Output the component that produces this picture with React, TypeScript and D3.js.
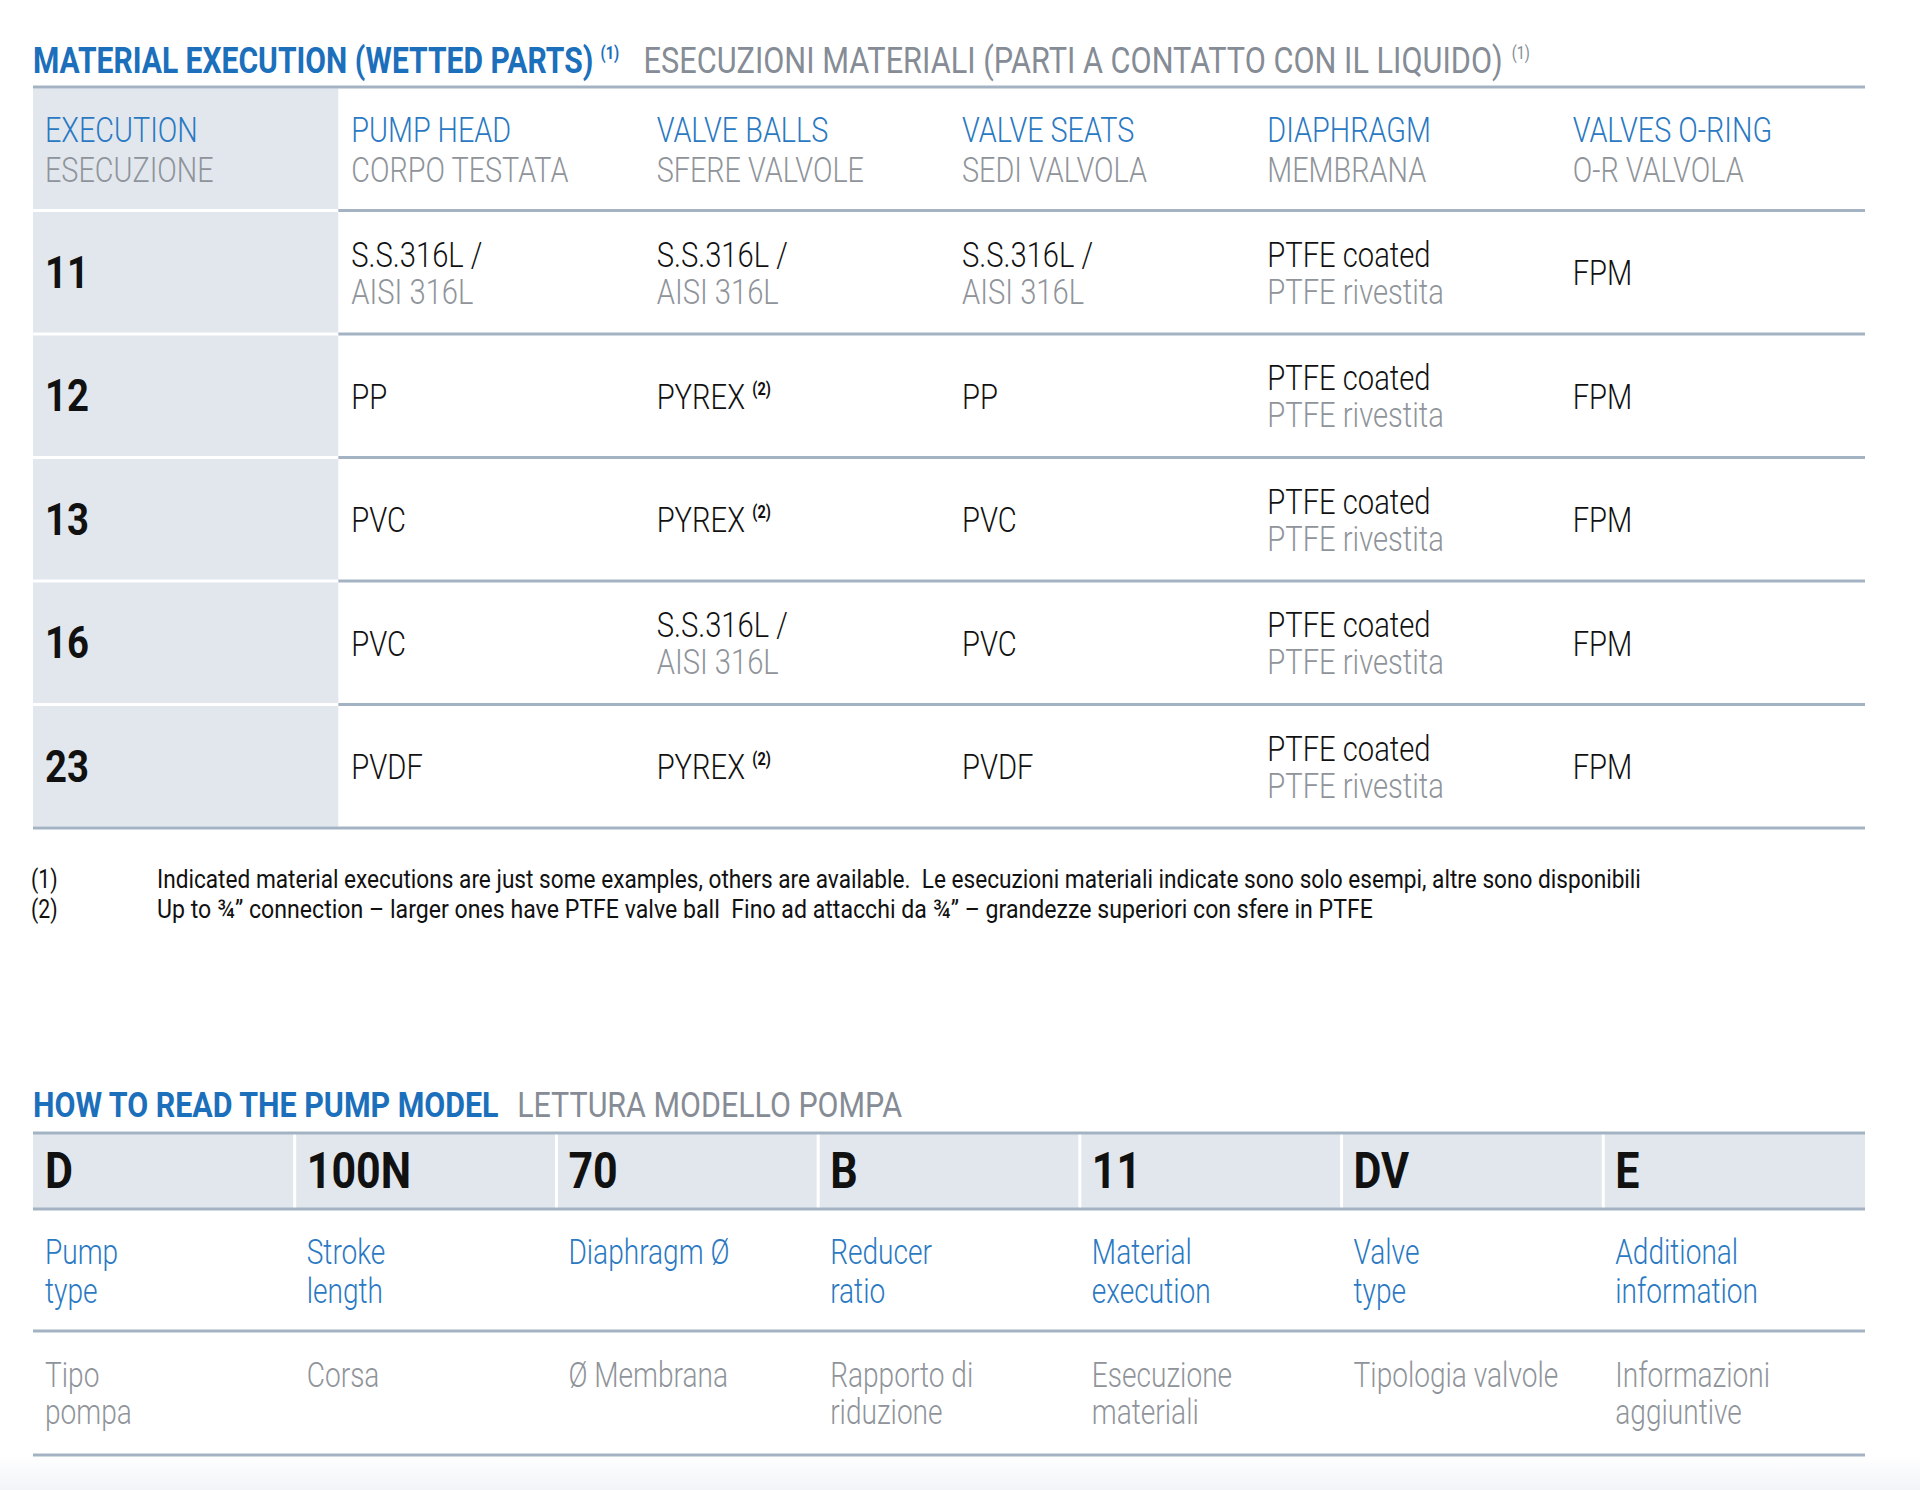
import React from 'react';
import * as d3 from 'd3';

// ---------- data ----------
const headersEn = ['EXECUTION', 'PUMP HEAD', 'VALVE BALLS', 'VALVE SEATS', 'DIAPHRAGM', 'VALVES O-RING'];
const headersIt = ['ESECUZIONE', 'CORPO TESTATA', 'SFERE VALVOLE', 'SEDI VALVOLA', 'MEMBRANA', 'O-R VALVOLA'];
const executions = ['11', '12', '13', '16', '23'];

type Cell = { l1: string; l2?: string; sup?: string };
const ss: Cell = { l1: 'S.S.316L /', l2: 'AISI 316L' };
const pyrex: Cell = { l1: 'PYREX', sup: '(2)' };
const ptfe: Cell = { l1: 'PTFE coated', l2: 'PTFE rivestita' };
const fpm: Cell = { l1: 'FPM' };

const pumpHead: Cell[] = [ss, { l1: 'PP' }, { l1: 'PVC' }, { l1: 'PVC' }, { l1: 'PVDF' }];
const valveBalls: Cell[] = [ss, pyrex, pyrex, ss, pyrex];
const valveSeats: Cell[] = [ss, { l1: 'PP' }, { l1: 'PVC' }, { l1: 'PVC' }, { l1: 'PVDF' }];
const diaphragm: Cell[] = [ptfe, ptfe, ptfe, ptfe, ptfe];
const oRing: Cell[] = [fpm, fpm, fpm, fpm, fpm];
const columns: Cell[][] = [pumpHead, valveBalls, valveSeats, diaphragm, oRing];

const footnoteMarks = ['(1)', '(2)'];
const footnotes = [
  'Indicated material executions are just some examples, others are available.  Le esecuzioni materiali indicate sono solo esempi, altre sono disponibili',
  'Up to \u00BE\u201D connection \u2013 larger ones have PTFE valve ball  Fino ad attacchi da \u00BE\u201D \u2013 grandezze superiori con sfere in PTFE',
];

const modelCodes = ['D', '100N', '70', 'B', '11', 'DV', 'E'];
const modelEn = [['Pump', 'type'], ['Stroke', 'length'], ['Diaphragm \u00D8'], ['Reducer', 'ratio'], ['Material', 'execution'], ['Valve', 'type'], ['Additional', 'information']];
const modelIt = [['Tipo', 'pompa'], ['Corsa'], ['\u00D8 Membrana'], ['Rapporto di', 'riduzione'], ['Esecuzione', 'materiali'], ['Tipologia valvole'], ['Informazioni', 'aggiuntive']];

// ---------- style ----------
const W = 1920;
const H = 1490;
const FONT = 'Roboto, "Liberation Sans", Arial, sans-serif';
const BLUE_T = '#1b6fbb';
const BLUE = '#2a79c2';
const GRAY_T = '#858c95';
const GRAY = '#8f949a';
const BLACK = '#111111';
const LINE = '#a3b3c3';
const CELL = '#e2e7ee';

function T({ x, y, sx = 0.8, size, weight = 400, fill, children }: any) {
  return (
    <text
      transform={`translate(${x},${y}) scale(${sx},1)`}
      fontSize={size}
      fontWeight={weight}
      fill={fill}
      fontFamily={FONT}
      style={{ whiteSpace: 'pre' }}
    >
      {children}
    </text>
  );
}

export default function App() {
  const left = 33;
  const right = 1865;

  // table 1
  const x1 = d3.scaleBand<number>().domain(d3.range(6)).range([left, right]);
  const y1 = d3.scaleBand<string>().domain(['head', ...executions]).range([87, 828]);
  const bw1 = x1.bandwidth();
  const bh1 = y1.bandwidth();

  // table 2
  const x2 = d3.scaleBand<number>().domain(d3.range(7)).range([left, right]);
  const bw2 = x2.bandwidth();
  const t2Lines = [1133, 1209, 1331, 1455];

  const cap = 36 * 0.711;

  return (
    <svg width={W} height={H} style={{ position: 'absolute', left: 0, top: 0, background: '#fff' }}>
      <defs>
        <linearGradient id="bottomShade" x1="0" y1="0" x2="0" y2="1">
          <stop offset="0" stopColor="#ffffff" />
          <stop offset="1" stopColor="#f2f4f7" />
        </linearGradient>
      </defs>
      <rect x={0} y={0} width={W} height={H} fill="#fff" />
      <rect x={0} y={1455} width={W} height={35} fill="url(#bottomShade)" />

      {/* ---------- Title 1 ---------- */}
      <T x={left} y={73} size={37} sx={0.812} weight={700} fill={BLUE_T}>
        <tspan>MATERIAL EXECUTION (WETTED PARTS)</tspan>
        <tspan fontSize={18} dx={9} dy={-14}>(1)</tspan>
        <tspan fill={GRAY_T} fontWeight={400} fontSize={37.8} dx={30} dy={14}>ESECUZIONI MATERIALI (PARTI A CONTATTO CON IL LIQUIDO)</tspan>
        <tspan fill={GRAY_T} fontWeight={400} fontSize={18} dx={11} dy={-14}>(1)</tspan>
      </T>

      {/* gray first column cells */}
      {y1.domain().map((r) => (
        <rect key={r} x={x1(0)} y={(y1(r) as number) + 1.5} width={bw1} height={bh1 - 3} fill={CELL} />
      ))}

      {/* row lines */}
      <line x1={left} x2={right} y1={87} y2={87} stroke={LINE} strokeWidth={3} />
      {y1.domain().slice(1).map((r) => (
        <line key={r} x1={x1(1)} x2={right} y1={y1(r)} y2={y1(r)} stroke={LINE} strokeWidth={3} />
      ))}
      <line x1={left} x2={right} y1={828} y2={828} stroke={LINE} strokeWidth={3} />

      {/* headers */}
      {headersEn.map((h, i) => {
        const mid = (y1('head') as number) + bh1 / 2;
        const x = (x1(i) as number) + (i === 0 ? 12 : 13);
        return (
          <T key={h} x={x} y={mid - 20 + cap / 2} size={36} sx={0.8} weight={300} fill={BLUE}>
            <tspan x={0} y={0}>{h}</tspan>
            <tspan x={0} y={40} fill={GRAY}>{headersIt[i]}</tspan>
          </T>
        );
      })}

      {/* execution numbers */}
      {executions.map((e) => {
        const mid = (y1(e) as number) + bh1 / 2;
        return (
          <T key={e} x={x1(0) + 12} y={mid + 44 * 0.711 / 2} size={44} sx={0.87} weight={700} fill={BLACK}>{e}</T>
        );
      })}

      {/* cells */}
      {columns.map((col, ci) =>
        col.map((c, ri) => {
          const mid = (y1(executions[ri]) as number) + bh1 / 2;
          const x = (x1(ci + 1) as number) + 13;
          if (c.l2) {
            return (
              <T key={`${ci}-${ri}`} x={x} y={mid - 18.5 + cap / 2} size={36} sx={0.81} weight={300} fill={BLACK}>
                <tspan x={0} y={0}>{c.l1}</tspan>
                <tspan x={0} y={37} fill={GRAY}>{c.l2}</tspan>
              </T>
            );
          }
          return (
            <T key={`${ci}-${ri}`} x={x} y={mid + cap / 2} size={36} sx={0.81} weight={300} fill={BLACK}>
              <tspan>{c.l1}</tspan>
              {c.sup ? (
                <tspan fontSize={18} fontWeight={700} dx={9} dy={-14}>{c.sup}</tspan>
              ) : null}
            </T>
          );
        })
      )}

      {/* footnotes */}
      {footnotes.map((f, i) => (
        <g key={i}>
          <T x={31} y={888 + i * 30} size={25} sx={0.85} weight={400} fill={BLACK}>{footnoteMarks[i]}</T>
          <T x={157} y={888 + i * 30} size={25} sx={i === 0 ? 0.906 : 0.925} weight={400} fill={BLACK}>{f}</T>
        </g>
      ))}

      {/* ---------- Title 2 ---------- */}
      <T x={left} y={1117} size={36} sx={0.845} weight={700} fill={BLUE_T}>
        <tspan>HOW TO READ THE PUMP MODEL</tspan>
        <tspan fill={GRAY_T} fontWeight={400} dx={22}>LETTURA MODELLO POMPA</tspan>
      </T>

      {/* code row background */}
      {modelCodes.map((c, i) => (
        <rect key={c + i} x={(x2(i) as number) + (i === 0 ? 0 : 1.5)} y={t2Lines[0]} width={bw2 - (i === 0 || i === 6 ? 1.5 : 3)} height={t2Lines[1] - t2Lines[0]} fill={CELL} />
      ))}
      {t2Lines.map((y, i) => (
        <line key={i} x1={left} x2={right} y1={y} y2={y} stroke={LINE} strokeWidth={3} />
      ))}

      {modelCodes.map((c, i) => (
        <T key={'c' + i} x={(x2(i) as number) + 12} y={1188} size={50} sx={0.86} weight={700} fill={BLACK}>{c}</T>
      ))}
      {modelEn.map((lines, i) => (
        <T key={`en${i}`} x={(x2(i) as number) + 12} y={1264} size={36} sx={0.78} weight={300} fill={BLUE}>
          {lines.map((l, j) => (
            <tspan key={j} x={0} y={j * 39}>{l}</tspan>
          ))}
        </T>
      ))}
      {modelIt.map((lines, i) => (
        <T key={`it${i}`} x={(x2(i) as number) + 12} y={1387} size={36} sx={0.78} weight={300} fill={GRAY}>
          {lines.map((l, j) => (
            <tspan key={j} x={0} y={j * 37}>{l}</tspan>
          ))}
        </T>
      ))}
    </svg>
  );
}
